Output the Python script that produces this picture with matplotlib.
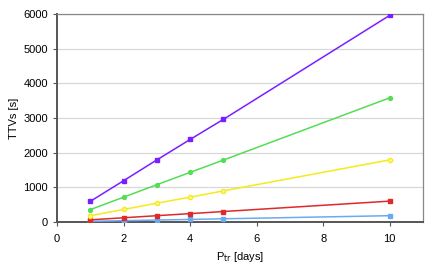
import numpy as np
import matplotlib
matplotlib.use("Agg")
import matplotlib.pyplot as plt

plt.rcParams['font.family'] = ['Liberation Sans', 'DejaVu Sans']

# orbital periods [days]
periods = [1, 2, 3, 4, 5, 10]

# TTV amplitudes [s] for each series
ttv_purple = [595, 1190, 1790, 2380, 2960, 5960]
ttv_green = [355, 715, 1075, 1430, 1785, 3580]
ttv_yellow = [180, 360, 540, 715, 895, 1790]
ttv_red = [60, 120, 180, 240, 300, 600]
ttv_blue = [18, 36, 54, 72, 90, 180]

series = [
    (ttv_blue, '#6aaaf5', 's'),
    (ttv_red, '#dd2a2a', 's'),
    (ttv_yellow, '#f5ea1a', 'o'),
    (ttv_green, '#55dd55', 'o'),
    (ttv_purple, '#7a1fff', 's'),
]

fig = plt.figure(figsize=(4.36, 2.69), dpi=100)
ax = fig.add_axes([0.131, 0.175, 0.839, 0.773])

for vals, col, mk in series:
    if col == '#f5ea1a':
        ax.plot(periods, vals, color=col, lw=1.1, marker='o', ms=3.0,
                mfc='#fff8a0', mec=col, mew=1.0, zorder=3)
    else:
        ax.plot(periods, vals, color=col, lw=1.1, marker=mk, ms=2.8,
                mec=col, zorder=3)

ax.set_xlim(0, 11)
ax.set_ylim(0, 6000)
ax.set_xticks([0, 2, 4, 6, 8, 10])
ax.set_yticks([0, 1000, 2000, 3000, 4000, 5000, 6000])
ax.yaxis.grid(True, color='#d8d8d8', lw=0.9)
ax.set_axisbelow(True)

for s in ['left', 'bottom']:
    ax.spines[s].set_color('#555555')
    ax.spines[s].set_linewidth(1.4)
for s in ['top', 'right']:
    ax.spines[s].set_color('#888888')
    ax.spines[s].set_linewidth(0.9)

ax.tick_params(axis='both', labelsize=8, color='#555555', length=3,
               width=0.8, direction='out')
ax.tick_params(axis='y', pad=3.5)
ax.tick_params(axis='x', pad=6)
ax.set_xlabel('P$_{\\rm tr}$ [days]', fontsize=8, labelpad=4)
ax.set_ylabel('TTVs [s]', fontsize=8, labelpad=3)

fig.savefig('out.png', dpi=100)
